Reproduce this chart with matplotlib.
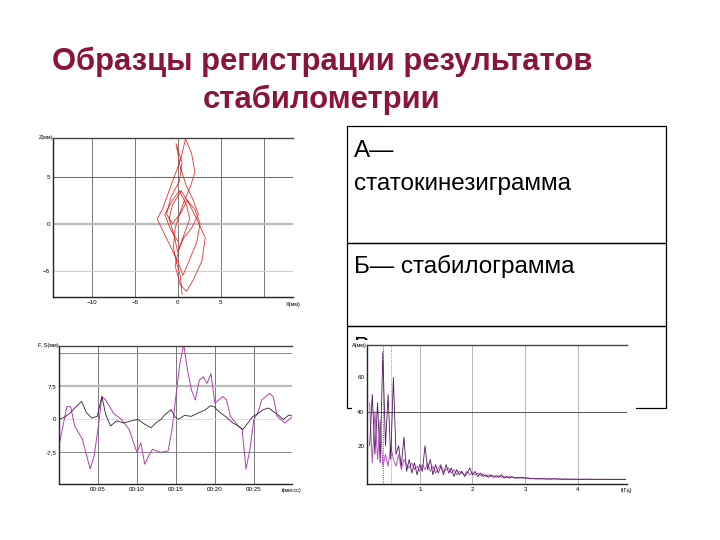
import numpy as np
import matplotlib
matplotlib.use("Agg")
import matplotlib.pyplot as plt
from matplotlib.patches import Rectangle

# ---- data ----
title_lines = ["Образцы регистрации результатов", "стабилометрии"]
table_texts = ["А—", "статокинезиграмма", "Б— стабилограмма", "В—"]

stato_x = [0.5,0.3,-0.2,-0.5,-0.3,0.2,0.8,1.5,2.0,1.6,0.9,0.4,-0.4,-1.2,-1.8,-2.4,-1.6,-0.8,0,0.6,
           1.3,2.2,2.6,2.0,1.1,0.4,-0.6,-1.3,-0.8,0.2,0.5,-0.2,0.3,1.0,1.8,2.4,1.6,0.7,0.0,-0.5,
           -1.0,-0.6,0.4,1.4,2.2,3.2,2.8,1.8,1.0,0.3,-0.3,0.2,0.8,1.4,1.0,0.2,-0.6,-1.5,-0.9,0.1]
stato_y = [-7.5,-5.5,-4.0,-2.5,-0.5,1.0,2.5,4.0,5.5,7.5,9.0,7.0,5.0,3.0,1.5,0.5,-1.0,-2.5,-4.0,-5.5,
           -4.0,-2.0,0.0,1.5,2.5,1.2,0.0,1.0,2.8,4.5,6.5,8.5,6.0,4.0,2.5,1.0,-0.5,-1.5,-3.0,-1.0,
           0.5,2.0,3.5,2.0,0.5,-1.5,-4.0,-6.0,-7.2,-6.5,-4.5,-2.5,-1.0,0.5,2.0,3.5,2.5,1.0,-0.5,-2.0]
stato_xticks = [-10, -5, 0, 5]
stato_yticks = [5, 0, -5]

stab_dark_t = [0,0.7,1.4,2.2,2.9,3.5,4.2,4.9,5.5,6.0,6.6,7.4,8.3,9.2,10.1,11.0,11.8,12.5,13.1,13.6,14.4,
               14.9,15.3,16.1,17.0,17.9,18.8,19.4,19.9,20.5,21.4,22.3,23.0,23.6,24.2,24.9,25.5,26.2,26.9,27.5,28.2,28.8,29.5,30.1]
stab_dark_v = [-0.1,0.4,1.3,2.8,4.0,1.5,0.2,0.6,5.1,1.0,-1.6,-0.4,-0.9,-0.5,-0.1,-1.2,-2.0,-0.8,-0.1,1.0,2.1,
               0.4,-0.1,0.8,0.6,1.4,2.1,3.0,2.8,1.7,0.5,-0.9,-1.6,-2.4,-1.0,0.6,1.2,2.1,2.5,1.7,0.8,-0.1,0.9,0.6]
stab_mag_t = [0,1,1.5,2,3,4,4.5,5,5.5,6,7,8,9,10,10.5,11,11.5,12,13,14,14.5,15,15.5,16,16.5,17,17.5,18,
              18.5,19,19.5,20,21,21.5,22,23,23.5,24,24.5,25,25.5,26,27,27.5,28,29,30]
stab_mag_v = [-6.1,2.8,2.8,-1.6,-4.6,-11.4,-8.4,-2.4,5.1,4.3,1.3,-0.1,-2.4,-7.6,-5.4,-10.3,-8.4,-6.9,-7.6,-7.3,
              -2.4,5.1,12.5,17.0,11.0,6.6,4.3,8.8,9.6,8.1,10.3,3.6,5.1,4.3,0.6,-1.6,-2.4,-11.4,-6.9,-0.1,
              1.3,4.3,5.8,5.1,0.6,-0.9,0.6]
stab_xticks = [5, 10, 15, 20, 25]
stab_xlabels = ["00:05", "00:10", "00:15", "00:20", "00:25"]
stab_yticks = [7.5, 0, -7.5]
stab_ylabels = ["7,5", "0", "-7,5"]

spec_dark = [20,50,15,45,10,75,20,50,12,60,15,20,8,25,5,12,4,10,3,9,
             5,20,6,12,3,9,4,8,3,9,4,7,2,6,3,5,2,4,7,3,
             5,2,4,2,3,1.5,3,1.5,2.5,1.5,3,1,2,1,2,1,1.5,1,1.5,1,
             1.2,0.6,1.0,0.5,0.9,0.5,0.8,0.4,0.7,0.4,0.8,0.4,0.6,0.3,0.6,0.3,0.5,0.3,0.5,0.3,
             0.4,0.3,0.5,0.3,0.4,0.3,0.4,0.3,0.4,0.3,0.4,0.3,0.3,0.3,0.3,0.3,0.3,0.3]
spec_mag = [45,10,40,12,35,8,15,8,20,12,8,15,6,12,9,7,10,6,8,5,
            9,6,10,5,8,4,7,9,5,6,7,4,6,3,5,4,3,5,3,4,
            3,4,2.5,3.5,2,3,2,2.5,1.5,2.5,1.5,2,1.2,2,1.2,1.5,1,1.5,1,1.2,
            0.8,1.0,0.6,0.9,0.5,0.8,0.5,0.7,0.4,0.6,0.5,0.6,0.4,0.5,0.4,0.5,0.3,0.4,0.3,0.4,
            0.3,0.4,0.3,0.3,0.3,0.3,0.3,0.3,0.3,0.3,0.3,0.3,0.3,0.3,0.3,0.3,0.3,0.3]
spec_f = np.arange(1, len(spec_dark) + 1) * 0.05
spec_xticks = [1, 2, 3, 4]
spec_yticks = [20, 40, 60]

# ---- figure ----
W, H = 720, 540
fig = plt.figure(figsize=(7.2, 5.4), dpi=100)
fig.patch.set_facecolor("white")
plt.rcParams['font.family'] = ['Liberation Sans', 'DejaVu Sans']

def rect(x0, y0, x1, y1):
    return [x0 / W, 1 - y1 / H, (x1 - x0) / W, (y1 - y0) / H]

tc = "#8B1538"
fig.text(322 / W, 1 - 70 / H, title_lines[0], ha="center", va="baseline", fontsize=22.3,
         fontweight="bold", color=tc)
fig.text(322 / W, 1 - 108 / H, title_lines[1], ha="center", va="baseline", fontsize=22.3,
         fontweight="bold", color=tc)

# table box
for (y0, y1) in [(126, 243), (243, 326), (326, 408)]:
    fig.add_artist(Rectangle((347 / W, 1 - y1 / H), (666 - 347) / W, (y1 - y0) / H,
                             transform=fig.transFigure, fill=False, lw=0.9, ec="black"))
fs = 17.5
fig.text(354 / W, 1 - 157 / H, table_texts[0], ha="left", va="baseline", fontsize=fs)
fig.text(354 / W, 1 - 190 / H, table_texts[1], ha="left", va="baseline", fontsize=fs)
fig.text(354 / W, 1 - 273 / H, table_texts[2], ha="left", va="baseline", fontsize=fs)
fig.text(354 / W, 1 - 354 / H, table_texts[3], ha="left", va="baseline", fontsize=fs, zorder=1)

def style(ax):
    ax.set_facecolor("white")
    for s in ax.spines.values():
        s.set_linewidth(1.0)
        s.set_color("#222222")
    ax.spines["right"].set_visible(False)
    ax.spines["top"].set_color("#444444")
    ax.tick_params(length=0, labelsize=4.5, pad=2)

# Panel A
axA = fig.add_axes(rect(53, 138, 293, 297))
style(axA)
axA.set_xlim(-14.5, 13.4); axA.set_ylim(-7.8, 9.1)
for v in [-10, -5, 0, 5, 10]:
    axA.axvline(v, color="#777777", lw=0.7, zorder=0)
axA.axhline(5, color="#666666", lw=0.7, zorder=0)
axA.axhline(0, color="#bbbbbb", lw=1.6, zorder=0)
axA.axhline(-5, color="#cccccc", lw=0.7, zorder=0)
axA.plot(stato_x, stato_y, color="#e83030", lw=0.6)
axA.set_xticks(stato_xticks); axA.set_yticks(stato_yticks)
axA.text(0, 1.0, "Z(мм)", transform=axA.transAxes, fontsize=4, ha="right", va="center")
axA.text(1.0, -0.03, "X(мм)", transform=axA.transAxes, fontsize=4, ha="center", va="top")

# Panel B
axB = fig.add_axes(rect(59, 346, 292, 484))
style(axB)
axB.set_xlim(0, 29.9); axB.set_ylim(-14.8, 16.6)
for v in stab_xticks:
    axB.axvline(v, color="#777777", lw=0.7, zorder=0)
axB.axhline(15, color="#888888", lw=0.7, zorder=0)
axB.axhline(7.5, color="#bbbbbb", lw=1.6, zorder=0)
axB.axhline(0, color="#dddddd", lw=0.7, zorder=0)
axB.axhline(-7.5, color="#888888", lw=0.7, zorder=0)
axB.plot(stab_mag_t, stab_mag_v, color="#b040b0", lw=0.7)
axB.plot(stab_dark_t, stab_dark_v, color="#3a1a3a", lw=0.6)
axB.set_xticks(stab_xticks, stab_xlabels); axB.set_yticks(stab_yticks, stab_ylabels)
axB.text(0, 1.0, "F, S(мм)", transform=axB.transAxes, fontsize=4, ha="right", va="center")
axB.text(1.0, -0.03, "t(мм:сс)", transform=axB.transAxes, fontsize=4, ha="center", va="top")

# Panel C (over the table box)
fig.add_artist(Rectangle((352 / W, 1 - 500 / H), 284 / W, 160 / H, transform=fig.transFigure,
                         fc="white", ec="none", zorder=2))
axC = fig.add_axes(rect(367, 345, 627, 484))
axC.set_zorder(3)
style(axC)
axC.set_xlim(0, 4.93); axC.set_ylim(-2.4, 79)
for v in spec_xticks:
    axC.axvline(v, color="#aaaaaa", lw=0.6, zorder=0)
axC.axhline(40, color="#555555", lw=0.7, zorder=0)
axC.axvline(0.3, color="#3a1a3a", lw=0.6, ls=":")
axC.axvline(0.45, color="#b040b0", lw=0.6, ls=":")
axC.plot(spec_f, spec_mag, color="#c050c0", lw=0.7)
axC.plot(spec_f, spec_dark, color="#4a1a5a", lw=0.6)
axC.set_xticks(spec_xticks); axC.set_yticks(spec_yticks)
axC.text(0, 1.0, "A(мм)", transform=axC.transAxes, fontsize=4, ha="right", va="center")
axC.text(1.0, -0.03, "f(Гц)", transform=axC.transAxes, fontsize=4, ha="center", va="top")

fig.savefig("out.png", dpi=100, facecolor="white")
